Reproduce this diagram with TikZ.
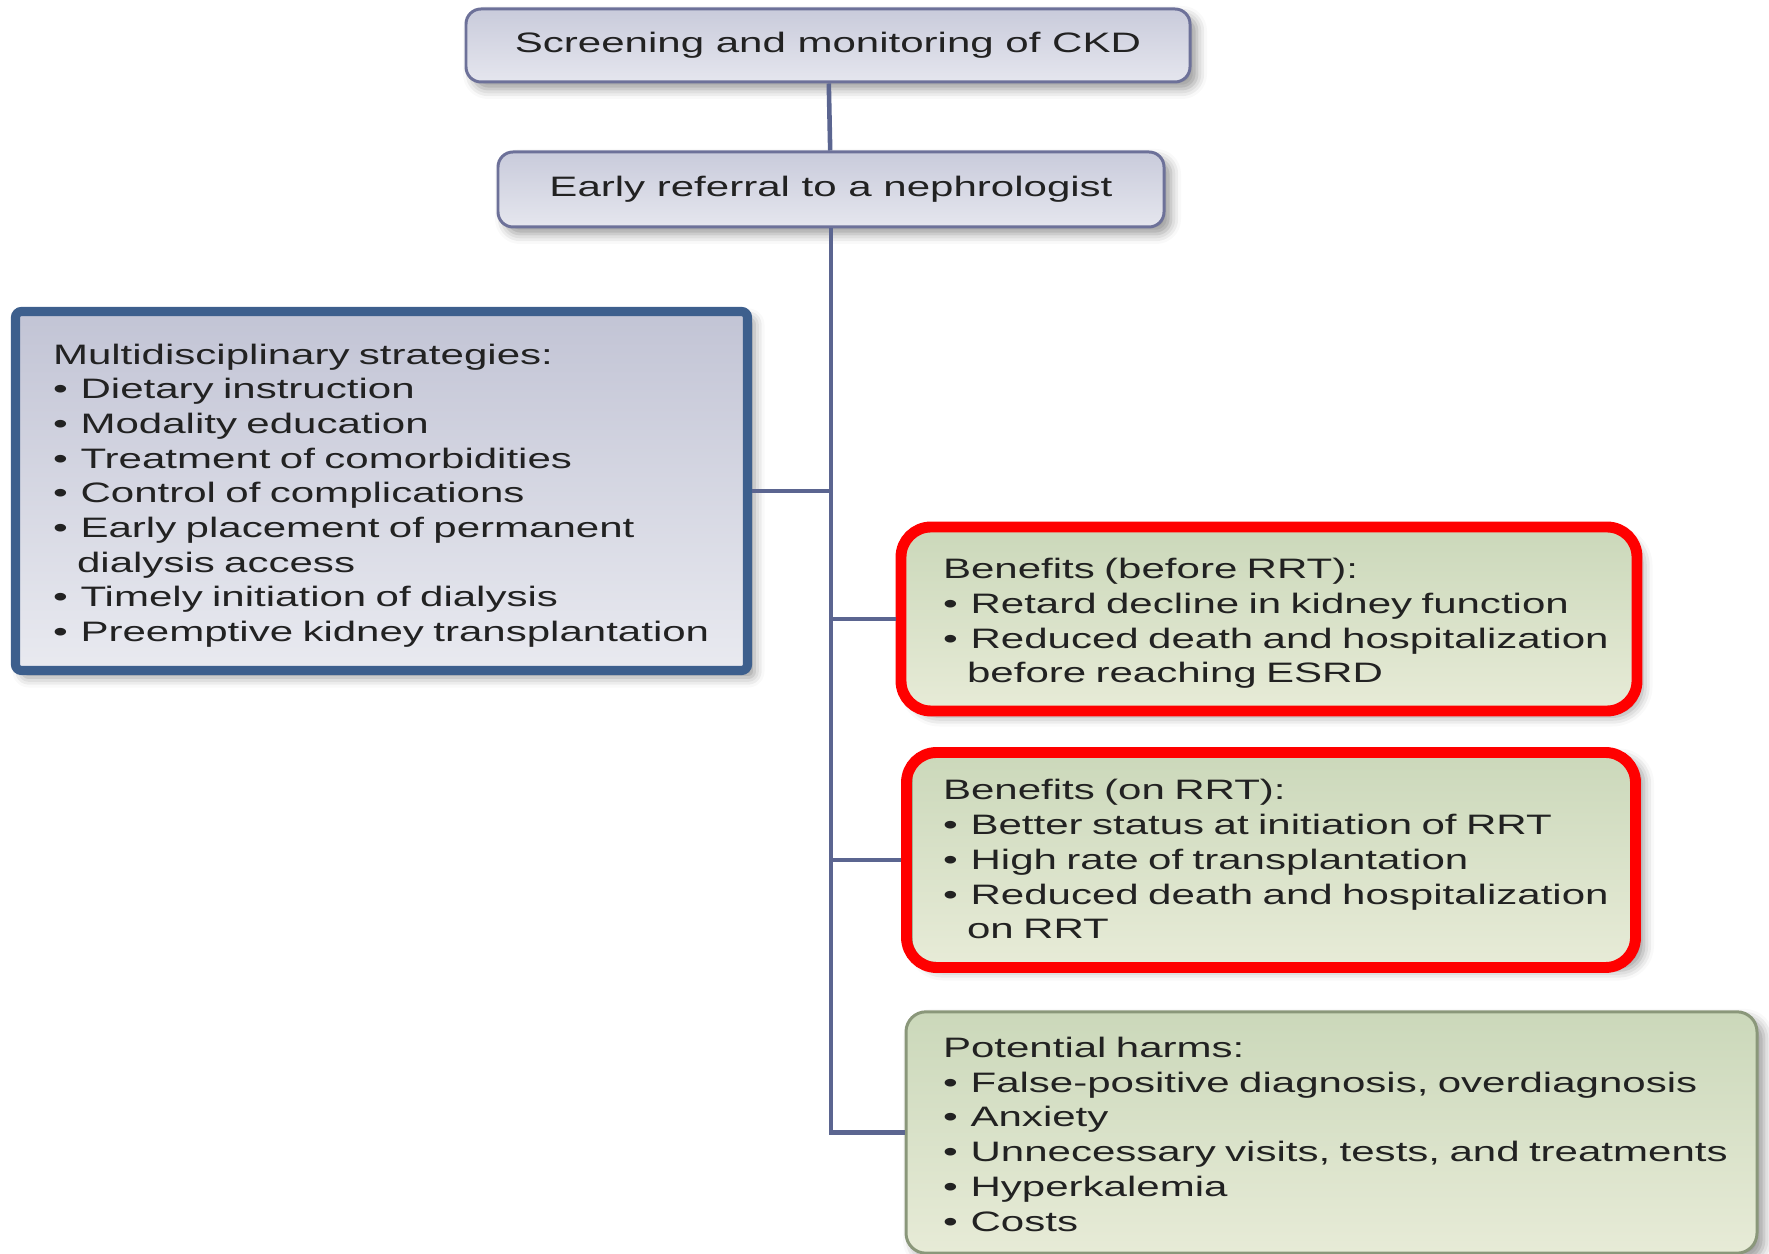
\documentclass[tikz,border=0pt]{standalone}
\usepackage{fontspec}
\setmainfont{Liberation Sans}[FakeStretch=1.495]
\usetikzlibrary{shadows.blur,fit}
\definecolor{slateline}{HTML}{5B6590}
\definecolor{slateedge}{HTML}{6D7199}
\definecolor{greytop}{HTML}{C9CBDB}
\definecolor{greybot}{HTML}{E5E6EE}
\definecolor{stratblue}{HTML}{3D5F8D}
\definecolor{strattop}{HTML}{C2C4D5}
\definecolor{stratbot}{HTML}{E9EAF0}
\definecolor{greentop}{HTML}{CBD8BA}
\definecolor{greenbot}{HTML}{E7EBD7}
\definecolor{greenedge}{HTML}{8A977A}
\definecolor{markred}{HTML}{FF0000}
\definecolor{inktext}{HTML}{222222}
\newcommand{\itm}{\textbullet\ \kern1pt}
\newcommand{\itmcont}{\hphantom{\textbullet}\ }
% one unbroken line per row, first row a little taller
\newcommand{\listlines}[1]{\begin{tabular}{@{}l@{}}\rule{0pt}{9.7pt}#1\end{tabular}}

\begin{document}
\begin{tikzpicture}[
  boxfont/.style={font=\fontsize{8}{9.87}\selectfont, text=inktext},
  softshadow/.style={blur shadow={shadow xshift=0.7mm, shadow yshift=-0.7mm, shadow blur radius=1mm, shadow opacity=40}},
  topbox/.style={boxfont, draw=slateedge, line width=0.85pt, rounded corners=1.5mm,
    top color=greytop, bottom color=greybot, softshadow},
  stratbox/.style={boxfont, draw=stratblue, line width=2.6pt, rounded corners=0.6mm,
    top color=strattop, bottom color=stratbot, softshadow, align=left},
  greenbox/.style={boxfont, draw=greenedge, line width=0.85pt, rounded corners=2.5mm,
    top color=greentop, bottom color=greenbot, softshadow, align=left},
  redmark/.style={draw=markred, line width=3.1pt, rounded corners=3mm, inner sep=0pt},
  link/.style={draw=slateline, line width=1.3pt}]

\useasboundingbox (0,0) rectangle (17.69,-12.54);

% top of the chain
\node[topbox, minimum width=7.24cm, minimum height=0.73cm] (ckd) at (8.28,-0.455) {Screening and monitoring of CKD};
\node[topbox, minimum width=6.66cm, minimum height=0.75cm] (referral) at (8.31,-1.895) {Early referral to a nephrologist};

% left branch
\node[stratbox, text width=6.57cm, inner xsep=0.375cm, minimum height=3.59cm] (strat) at (3.815,-4.91) {\listlines{%
Multidisciplinary strategies:\\
\itm Dietary instruction\\
\itm Modality education\\
\itm Treatment of comorbidities\\
\itm Control of complications\\
\itm Early placement of permanent\\
\itmcont dialysis access\\
\itm Timely initiation of dialysis\\
\itm Preemptive kidney transplantation}};

% right branches
\node[greenbox, rounded corners=3mm, text width=6.52cm, inner xsep=0.405cm, minimum height=1.81cm] (before) at (12.69,-6.19) {\listlines{%
Benefits (before RRT):\\
\itm Retard decline in kidney function\\
\itm Reduced death and hospitalization\\
\itmcont before reaching ESRD}};

\node[greenbox, text width=6.62cm, inner xsep=0.32cm, minimum height=2.12cm] (onrrt) at (12.74,-8.575) {\listlines{%
Benefits (on RRT):\\
\itm Better status at initiation of RRT\\
\itm High rate of transplantation\\
\itm Reduced death and hospitalization\\
\itmcont on RRT}};

\node[greenbox, rounded corners=2mm, text width=7.77cm, inner xsep=0.37cm, minimum height=2.41cm] (harms) at (13.315,-11.325) {\listlines{%
Potential harms:\\
\itm False-positive diagnosis, overdiagnosis\\
\itm Anxiety\\
\itm Unnecessary visits, tests, and treatments\\
\itm Hyperkalemia\\
\itm Costs}};

% red highlights
\node[redmark, fit=(before)] (beforemark) {};
\node[redmark, fit=(onrrt), xshift=-0.3mm, yshift=-0.25mm] (onrrtmark) {};

% connectors
\draw[link] (ckd) -- (referral);
\draw[link] (referral.south) -- (referral.south |- harms.west) -- (harms.west);
\draw[link] (strat.east) -- (strat.east -| referral.south);
\draw[link] (beforemark.west -| referral.south) -- (beforemark.west);
\draw[link] (onrrtmark.west -| referral.south) -- (onrrtmark.west);
\end{tikzpicture}
\end{document}
